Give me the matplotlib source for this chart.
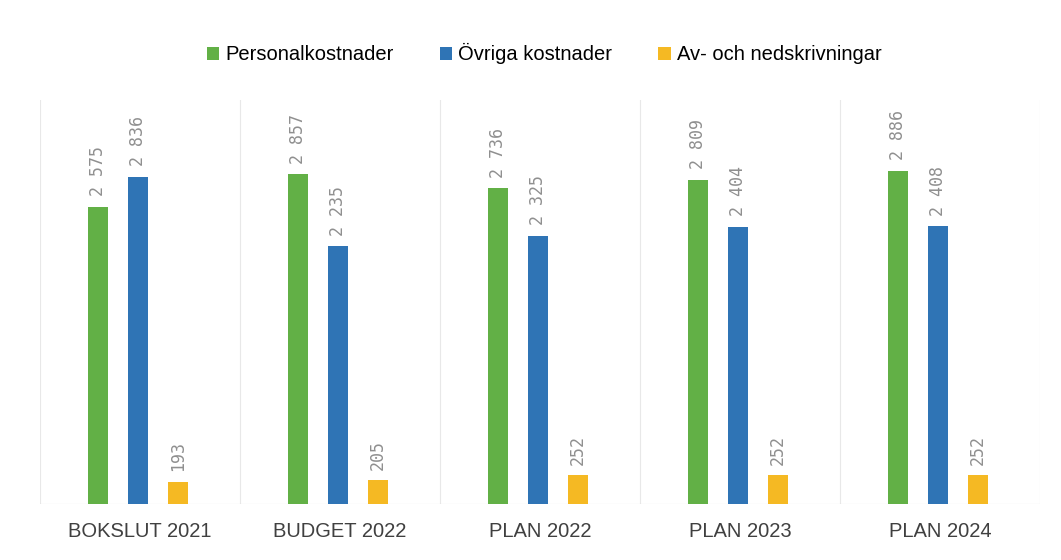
import numpy as np
import matplotlib.pyplot as plt

# Data
categories = ['BOKSLUT 2021', 'BUDGET 2022', 'PLAN 2022', 'PLAN 2023', 'PLAN 2024']
series_names = ['Personalkostnader', 'Övriga kostnader', 'Av- och nedskrivningar']
personal = [2575, 2857, 2736, 2809, 2886]
ovriga = [2836, 2235, 2325, 2404, 2408]
avskr = [193, 205, 252, 252, 252]

colors = ['#62B046', '#2F74B5', '#F5B923']

fig = plt.figure(figsize=(10.61, 5.6), dpi=100)
ax = fig.add_axes([40 / 1061, 1 - 504 / 560, 1000 / 1061, 404 / 560])

x = np.arange(len(categories))
w = 0.1
offs = [-0.21, -0.01, 0.19]
for vals, off, c, name in zip([personal, ovriga, avskr], offs, colors, series_names):
    bars = ax.bar(x + off, vals, width=w, color=c, label=name, zorder=3)
    for b, v in zip(bars, vals):
        lbl = f'{v:,}'.replace(',', ' ')
        ax.text(b.get_x() + b.get_width() / 2, v + 90, lbl, rotation=90,
                ha='center', va='bottom', fontsize=12, color='#8f8f8f',
                family='DejaVu Sans Mono')

ax.set_xlim(-0.5, len(categories) - 0.5)
ax.set_ylim(0, 3500)
for i in range(len(categories) + 1):
    ax.axvline(i - 0.5, color='#e8e8e8', lw=0.8, zorder=1)
ax.axhline(0, color='#d0d0d0', lw=0.8, zorder=2)

for s in ax.spines.values():
    s.set_visible(False)
ax.set_yticks([])
ax.set_xticks(x)
ax.set_xticklabels(categories, fontsize=14.5, color='#404040', family='Liberation Sans')
ax.tick_params(axis='x', length=0, pad=13)

fig.legend(loc='upper center', bbox_to_anchor=(0.513, 0.955), ncol=3, frameon=False,
           handlelength=0.6, handleheight=0.6, columnspacing=2.3,
           handletextpad=0.3,
           prop={'family': 'Liberation Sans', 'size': 14.5})

fig.savefig('out.png', dpi=100)
